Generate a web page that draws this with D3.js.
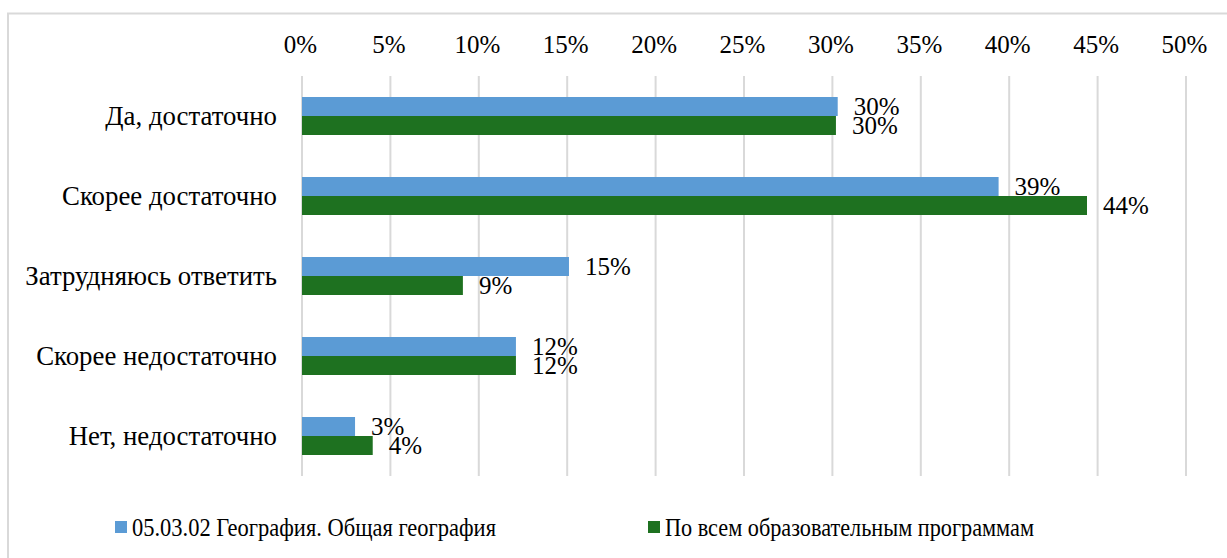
<!DOCTYPE html>
<html>
<head>
    <meta charset="utf-8">
    <title>Chart</title>
    <script src="https://cdnjs.cloudflare.com/ajax/libs/d3/7.8.5/d3.min.js"></script>
</head>
<body style="margin:0;background:#fff">
<script>
    const categories = ["Да, достаточно", "Скорее достаточно", "Затрудняюсь ответить",
        "Скорее недостаточно", "Нет, недостаточно"];
    const seriesNames = ["05.03.02 География. Общая география", "По всем образовательным программам"];
    const geography = [30.3, 39.4, 15.1, 12.1, 3.0];
    const allPrograms = [30.2, 44.4, 9.1, 12.1, 4.0];
    const valueLabels = [["30%", "39%", "15%", "12%", "3%"], ["30%", "44%", "9%", "12%", "4%"]];
    const tickValues = [0, 5, 10, 15, 20, 25, 30, 35, 40, 45, 50];
    const colors = ["#5b9bd5", "#1e7120"];
    const FONT = "Liberation Serif";

    const W = 1227, H = 558;
    const svg = d3.select("body").append("svg").attr("width", W).attr("height", H);

    // frame
    svg.append("path").attr("d", `M8,${H} V13.5 H${W}`)
        .attr("fill", "none").attr("stroke", "#d9d9d9").attr("stroke-width", 2);

    const x = d3.scaleLinear().domain([0, 50]).range([302, 1186]);
    const y = d3.scaleBand().domain(categories).range([76, 476]).paddingInner(0.525).paddingOuter(0.2625);
    const ySub = d3.scaleBand().domain([0, 1]).range([0, y.bandwidth()]);

    // gridlines
    svg.append("g").selectAll("line").data(tickValues).enter().append("line")
        .attr("x1", d => x(d)).attr("x2", d => x(d))
        .attr("y1", 76).attr("y2", 476)
        .attr("stroke", "#d9d9d9").attr("stroke-width", 2);

    // top axis labels
    const axis = svg.append("g").attr("transform", "translate(0,53)")
        .call(d3.axisTop(x).tickValues(tickValues).tickFormat(d => d + "%").tickSize(0).tickPadding(0));
    axis.attr("font-family", FONT).attr("font-size", 25);
    axis.select(".domain").remove();
    axis.selectAll("text").attr("dx", -2).attr("fill", "#000");

    // category labels
    svg.append("g").selectAll("text").data(categories).enter().append("text")
        .attr("x", 277).attr("y", d => y(d) + y.bandwidth() / 2)
        .attr("dy", "0.32em").attr("text-anchor", "end")
        .attr("font-size", 26.8).attr("font-family", FONT)
        .text(d => d);

    const series = [geography, allPrograms];
    series.forEach((vals, s) => {
        const g = svg.append("g");
        g.selectAll("rect").data(vals).enter().append("rect")
            .attr("x", x(0))
            .attr("y", (d, i) => y(categories[i]) + ySub(s))
            .attr("width", d => x(d) - x(0))
            .attr("height", ySub.bandwidth())
            .attr("fill", colors[s]);
        g.selectAll("text").data(vals).enter().append("text")
            .attr("x", d => x(d) + 16)
            .attr("y", (d, i) => y(categories[i]) + ySub(s) + ySub.bandwidth() / 2)
            .attr("dy", "0.35em")
            .attr("font-size", 25).attr("font-family", FONT)
            .text((d, i) => valueLabels[s][i]);
    });

    // legend (text squeezed a bit, like the original)
    const legendX = [115, 648];
    const legendW = [364, 369];
    const legend = svg.append("g").selectAll("g").data(seriesNames).enter().append("g")
        .attr("transform", (d, i) => `translate(${legendX[i]},521)`);
    legend.append("rect").attr("width", 12).attr("height", 12).attr("fill", (d, i) => colors[i]);
    legend.append("text").attr("x", 17).attr("y", 6).attr("dy", "0.35em")
        .attr("font-size", 25).attr("font-family", FONT)
        .attr("textLength", (d, i) => legendW[i]).attr("lengthAdjust", "spacingAndGlyphs")
        .text(d => d);
</script>
</body>
</html>
